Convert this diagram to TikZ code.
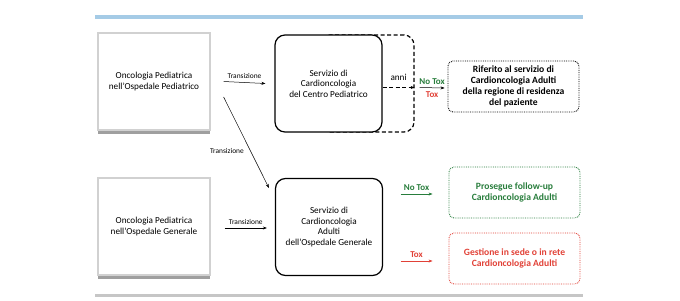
\documentclass[tikz,border=0pt]{standalone}
\usepackage{fontspec}
\setmainfont{Carlito}
\usetikzlibrary{arrows.meta,positioning,calc,shadows}
\definecolor{tGreen}{RGB}{40,125,60}
\definecolor{tRed}{RGB}{225,65,55}
\definecolor{tBlue}{RGB}{165,203,230}
\definecolor{tGray}{RGB}{198,198,198}

\begin{document}
\begin{tikzpicture}[x=1pt, y=-1pt, every node/.style={font=\fontsize{9.2}{10.5}\selectfont, align=center},
    unit/.style={draw=black!18, line width=1.2pt, fill=white, minimum width=112pt, minimum height=97pt,
      drop shadow={shadow xshift=0pt, shadow yshift=-4pt, opacity=0.5, fill=black!75}},
    serv/.style={draw, line width=1.2pt, rounded corners=10pt, fill=white, minimum width=107pt, minimum height=97pt},
    outc/.style={draw, dash pattern=on 0.8pt off 1pt, line width=0.9pt, rounded corners=5pt, minimum width=131pt, minimum height=51pt,
      font=\fontsize{9.6}{10.8}\selectfont\bfseries},
    arr/.style={-{Stealth[length=4pt,width=3pt]}, line width=0.5pt},
    lbl/.style={font=\fontsize{7.4}{8}\selectfont},
    tox/.style={font=\fontsize{9}{10}\selectfont\bfseries}]
    \useasboundingbox (0,0) rectangle (680,300);
    % Rules
    \draw[tBlue, line width=4pt] (95,17) -- (583,17);
    \draw[tGray, line width=3pt] (95,295) -- (583,295);
    % Units
    \node[unit] (oncped) at (154,81.5) {Oncologia Pediatrica\\nell’Ospedale Pediatrico};
    \node[unit] (oncgen) at (154,226.5) {Oncologia Pediatrica\\nell’Ospedale Generale};
    % Services
    \node[serv, dash pattern=on 4pt off 2.5pt, minimum width=94pt] (srvext) at (367,83.5) {};
    \node[serv] (srvped) at (328.5,83.5) {Servizio di\\Cardioncologia\\del Centro Pediatrico};
    \node[serv] (srvadu) at (329,227) {Servizio di\\Cardioncologia\\Adulti\\dell’Ospedale Generale};
    % Outcomes
    \node[outc] (rif) at (513.5,86.5) {Riferito al servizio di\\Cardioncologia Adulti\\della regione di residenza\\del paziente};
    \node[outc, tGreen] (pros) at (514.5,192.5) {Prosegue follow-up\\Cardioncologia Adulti};
    \node[outc, tRed] (gest) at (514.5,258.5) {Gestione in sede o in rete\\Cardioncologia Adulti};
    % Transitions
    \draw[arr] ([xshift=13pt]oncped.east) -- ([xshift=-9pt]srvped.west) node[midway, above, lbl] {Transizione};
    \draw[arr] ([xshift=14pt,yshift=-1.5pt]oncgen.east) -- ([xshift=-8pt,yshift=-1pt]srvadu.west) node[midway, above, lbl] {Transizione};
    \draw[arr] ([shift={(13pt,-15.5pt)}]oncped.east) -- ([shift={(-6pt,-10pt)}]srvadu.north west) node[pos=0.59, left=3pt, lbl] {Transizione};
    \draw[arr, dash pattern=on 4pt off 2.5pt] ([yshift=-4pt]srvped.east) -- ([yshift=-4pt]srvext.east) node[midway, above=3pt] {anni};
    % Tox
    \draw[arr] ([xshift=5pt,yshift=-4pt]srvext.east) -- ([xshift=-3pt,yshift=-1.5pt]rif.west)
      node[midway, above, tox, tGreen] {No Tox} node[midway, below, tox, tRed] {Tox};
    \draw[arr, tGreen] ([xshift=-48pt,yshift=-1.5pt]pros.west) -- ([xshift=-16pt,yshift=-1.5pt]pros.west) node[midway, above, tox] {No Tox};
    \draw[arr, tRed] ([xshift=-48pt,yshift=-2.5pt]gest.west) -- ([xshift=-16pt,yshift=-2.5pt]gest.west) node[midway, above, tox] {Tox};
\end{tikzpicture}
\end{document}
